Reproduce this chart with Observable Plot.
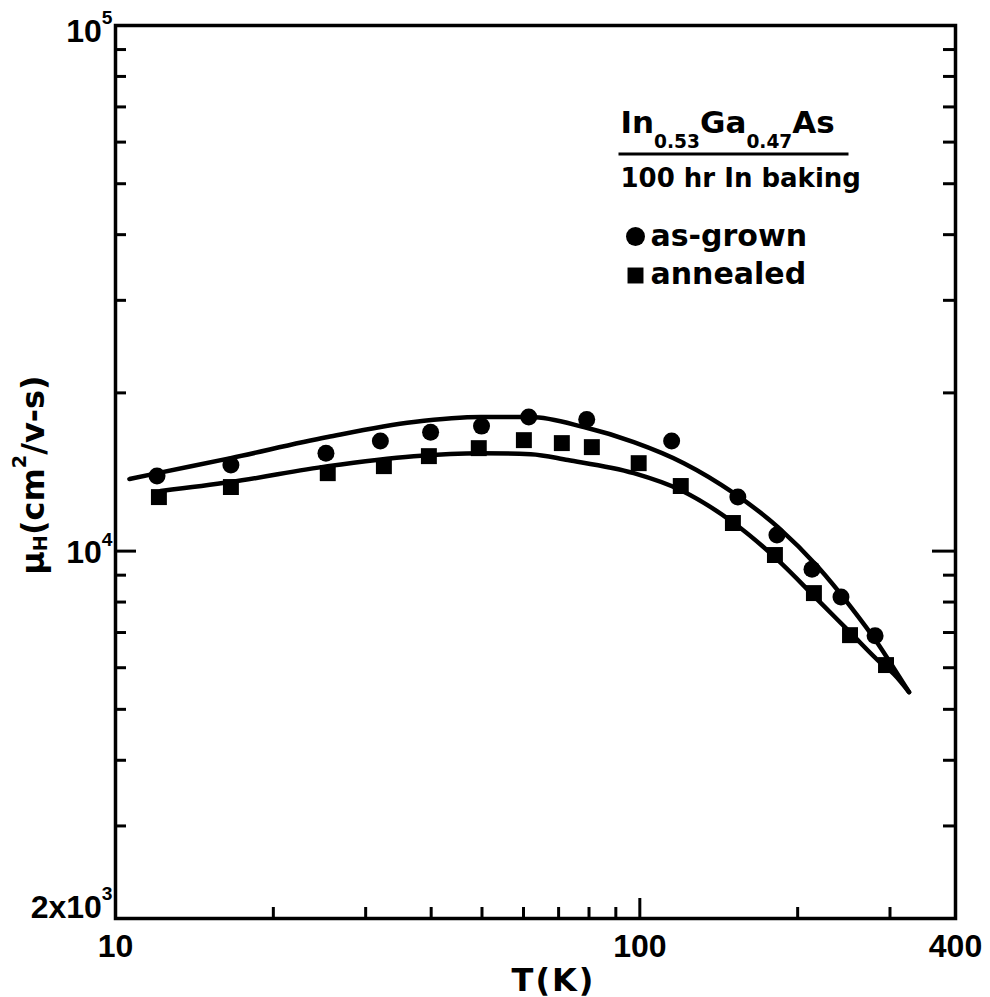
<!DOCTYPE html>
<html>
<head>
<meta charset="utf-8">
<script src="https://cdn.jsdelivr.net/npm/d3@7"></script>
<script src="https://cdn.jsdelivr.net/npm/@observablehq/plot@0.6"></script>
<style>
  html, body { margin: 0; padding: 0; background: #fff; }
  #chart svg { display: block; }
</style>
</head>
<body>
<div id="chart"></div>
<script>
// Hall mobility of In0.53Ga0.47As versus temperature, after 100 hr In baking.

// Measured points, as-grown layer (circles)
const asGrownT  = [12.0, 16.6, 25.2, 32.0, 39.9, 49.9, 61.4, 79.2, 115, 153.8, 182.6, 213, 241.9, 281];
const asGrownMu = [13890, 14580, 15360, 16200, 16840, 17290, 18000, 17800, 16200, 12670, 10730, 9240, 8180, 6900];

// Measured points, annealed layer (squares)
const annealedT  = [12.1, 16.6, 25.4, 32.5, 39.6, 49.3, 60.1, 71.0, 81.0, 99.5, 119.7, 150.5, 181, 214.8, 251.7, 294.8];
const annealedMu = [12670, 13240, 14070, 14510, 15160, 15700, 16260, 16050, 15770, 14700, 13300, 11310, 9830, 8320, 6920, 6070];

// Calculated mobility curves
const fitUpperT  = [10.63, 12.03, 16.58, 25.39, 37.05, 49.73, 61.94, 78.19, 97.39, 121.3, 151.1, 183.4, 218.7, 252.7, 283.5, 305.3, 326.2];
const fitUpperMu = [13710, 14070, 15030, 16480, 17600, 17990, 17990, 17220, 16120, 14700, 12890, 11110, 9324, 7825, 6700, 5980, 5391];
const fitLowerT  = [12.19, 16.58, 25.39, 37.05, 49.73, 61.94, 72.9, 97.39, 119.7, 151.1, 183.4, 218.7, 252.7, 288.4, 305.3, 326.2];
const fitLowerMu = [13010, 13530, 14510, 15160, 15360, 15290, 14900, 14070, 13060, 11310, 9613, 8068, 6982, 6120, 5834, 5391];

// Axis ticks and labels
const xMinorTicks = [20, 30, 40, 50, 60, 70, 80, 90, 200, 300];
const xMajorTicks = [100];
const xTickLabels = [10, 100, 400];
const yMinorTicks = [3000, 4000, 5000, 6000, 7000, 8000, 9000, 20000, 30000, 40000, 50000, 60000, 70000, 80000, 90000];
const yMajorTicks = [10000];
const yLabelValues = [100000, 10000, 2000];
const yLabelTexts = ["10^{5}", "10^{4}", "2x10^{3}"];

// Legend text
const legendFormula = "In_{0.53}Ga_{0.47}As";
const legendNote = "100 hr In baking";
const legendSeries = ["as-grown", "annealed"];
const xTitle = "T(K)";
const yTitle = "μ_0.1{H}(cm^{2}/v-s)";

const zip = (a, b) => a.map((v, i) => ({T: v, mu: b[i]}));
const asGrown = zip(asGrownT, asGrownMu);
const annealed = zip(annealedT, annealedMu);
const fitUpper = zip(fitUpperT, fitUpperMu);
const fitLower = zip(fitLowerT, fitLowerMu);

// layout (pixels)
const W = 990, H = 997;
const mL = 115, mR = 35, mT = 25, mB = 79;
const innerW = W - mL - mR, innerH = H - mT - mB;
const sans = "Liberation Sans, Arial, Helvetica, sans-serif";
const wide = "DejaVu Sans, Verdana, sans-serif";
const yLabelDy = [16, 12, -1];

const bold = {fontWeight: "bold", fill: "black"};

const yLabelMarks = yLabelValues.map((v, i) =>
  Plot.text([v], {
    y: d => d, text: () => yLabelTexts[i],
    frameAnchor: "left", textAnchor: "end", lineAnchor: "bottom",
    dx: -3, dy: yLabelDy[i], fontSize: 32, fontFamily: sans, ...bold
  })
);

const svg = Plot.plot({
  width: W, height: H,
  marginLeft: mL, marginRight: mR, marginTop: mT, marginBottom: mB,
  x: {type: "log", domain: [10, 400], axis: null},
  y: {type: "log", domain: [2000, 100000], axis: null},
  style: {background: "white", color: "black", overflow: "visible"},
  marks: [
    // inward ticks: bottom, left, right
    Plot.tickX(xMinorTicks, {x: d => d, insetTop: innerH - 11, strokeWidth: 3}),
    Plot.tickX(xMajorTicks, {x: d => d, insetTop: innerH - 20, strokeWidth: 3}),
    Plot.tickY(yMinorTicks, {y: d => d, insetRight: innerW - 11, strokeWidth: 3}),
    Plot.tickY(yMajorTicks, {y: d => d, insetRight: innerW - 21, strokeWidth: 3}),
    Plot.tickY(yMinorTicks, {y: d => d, insetLeft: innerW - 12, strokeWidth: 3}),
    Plot.tickY(yMajorTicks, {y: d => d, insetLeft: innerW - 23, strokeWidth: 3}),
    Plot.frame({strokeWidth: 3.5}),

    // curves and measured points
    Plot.line(fitUpper, {x: "T", y: "mu", curve: "monotone-x", stroke: "black", strokeWidth: 4.5}),
    Plot.line(fitLower, {x: "T", y: "mu", curve: "monotone-x", stroke: "black", strokeWidth: 4.5}),
    Plot.dot(asGrown, {x: "T", y: "mu", r: 8.5, symbol: "circle", fill: "black"}),
    Plot.dot(annealed, {x: "T", y: "mu", r: 9, symbol: "square", fill: "black"}),

    // tick labels
    Plot.text(xTickLabels, {
      x: d => d, text: d => String(d), frameAnchor: "bottom", lineAnchor: "bottom",
      dy: 38, fontSize: 32, fontFamily: sans, ...bold
    }),
    ...yLabelMarks,

    // axis titles
    Plot.text([xTitle], {
      text: d => d, frameAnchor: "bottom", lineAnchor: "bottom",
      dx: 18, dy: 72, fontSize: 32, fontFamily: wide, ...bold
    }),
    Plot.text([yTitle], {
      text: d => d, frameAnchor: "left", rotate: -90, textAnchor: "middle", lineAnchor: "bottom",
      dx: 43 - mL, dy: 3, fontSize: 32, fontFamily: wide, ...bold
    }),

    // legend block
    Plot.text([legendFormula], {
      text: d => d, frameAnchor: "top-left", textAnchor: "start", lineAnchor: "bottom",
      dx: 620 - mL, dy: 132 - mT, fontSize: 31, fontFamily: wide, ...bold
    }),
    Plot.frame({
      fill: "black", stroke: "none",
      insetLeft: 618 - mL, insetRight: W - mR - 848, insetTop: 152 - mT, insetBottom: H - mB - 155
    }),
    Plot.text([legendNote], {
      text: d => d, frameAnchor: "top-left", textAnchor: "start", lineAnchor: "bottom",
      dx: 620 - mL, dy: 186 - mT, fontSize: 26, fontFamily: wide, ...bold
    }),
    Plot.dot([0], {frameAnchor: "top-left", dx: 635 - mL, dy: 236 - mT, r: 9.5, symbol: "circle", fill: "black"}),
    Plot.dot([0], {frameAnchor: "top-left", dx: 635 - mL, dy: 275 - mT, r: 9, symbol: "square", fill: "black"}),
    Plot.text([legendSeries[0]], {
      text: d => d, frameAnchor: "top-left", textAnchor: "start", lineAnchor: "bottom",
      dx: 650 - mL, dy: 245 - mT, fontSize: 30, fontFamily: wide, ...bold
    }),
    Plot.text([legendSeries[1]], {
      text: d => d, frameAnchor: "top-left", textAnchor: "start", lineAnchor: "bottom",
      dx: 650 - mL, dy: 283 - mT, fontSize: 30, fontFamily: wide, ...bold
    })
  ]
});

// Turn "_{..}" / "^{..}" markup into sub/superscript tspans.
// An optional number after the marker sets the baseline shift in em.
function applyRichText(root) {
  const NS = "http://www.w3.org/2000/svg";
  root.querySelectorAll("text").forEach(el => {
    const s = el.textContent;
    if (!/[_^][-\d.]*\{/.test(s)) return;
    const parts = s.split(/([_^][-\d.]*\{[^}]*\})/).filter(p => p !== "");
    el.textContent = "";
    let shift = 0;
    for (const p of parts) {
      const m = p.match(/^([_^])([-\d.]*)\{([^}]*)\}$/);
      const t = document.createElementNS(NS, "tspan");
      if (m) {
        const size = 0.6;
        const amount = m[2] ? +m[2] : (m[1] === "_" ? 0.5 : 0.55);
        const target = m[1] === "_" ? amount : -amount;
        t.setAttribute("font-size", `${size}em`);
        t.setAttribute("dy", `${(target - shift) / size}em`);
        t.textContent = m[3];
        shift = target;
      } else {
        if (shift) t.setAttribute("dy", `${-shift}em`);
        t.textContent = p;
        shift = 0;
      }
      el.appendChild(t);
    }
  });
  // the axis title is set in slightly spaced lettering
  root.querySelectorAll("text").forEach(el => {
    if (el.textContent === xTitle) el.setAttribute("letter-spacing", "2");
  });
}
applyRichText(svg);

document.getElementById("chart").appendChild(svg);
</script>
</body>
</html>
